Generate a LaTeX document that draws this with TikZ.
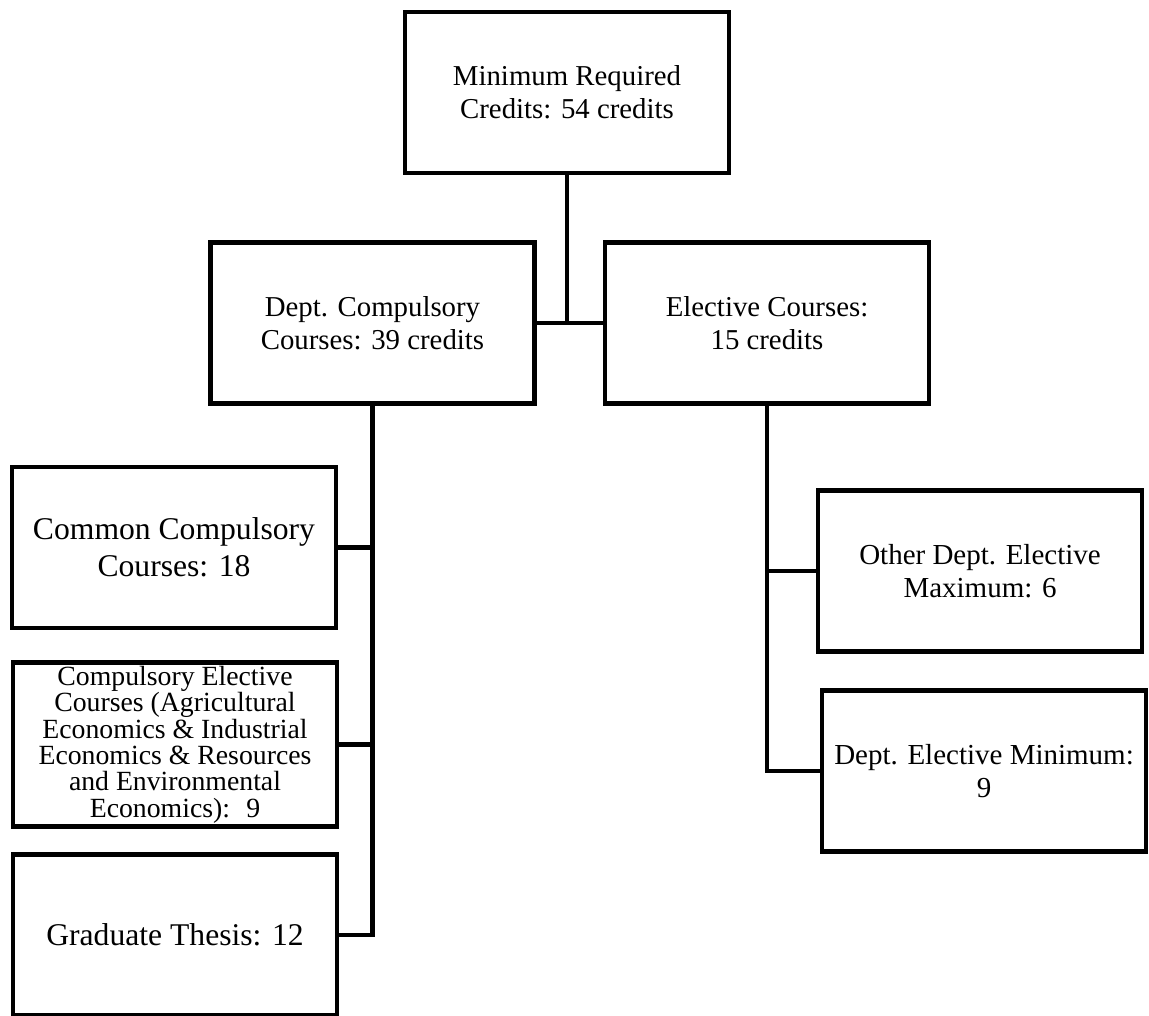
\documentclass[tikz,border=0pt]{standalone}
\usepackage{fontspec}
\setmainfont{Liberation Serif}
\usepackage{tikz}
\newcommand{\boxfont}[2]{\fontsize{#1}{#2}\selectfont}
\tikzset{
  creditbox/.style={draw, line width=2.5pt, minimum width=6.48cm, minimum height=3.22cm,
    inner sep=2pt, align=center, font=\boxfont{16.4}{18.8}},
  link/.style={line width=2.5pt}
}
\begin{document}
\begin{tikzpicture}[x=0.02cm,y=-0.02cm]
\useasboundingbox (0,0) rectangle (1149,1015);
% upper level
\node[creditbox] (minreq) at (567,92.5) {Minimum Required\\Credits: 54 credits};
\node[creditbox] (dept) at (372.5,323) {Dept. Compulsory\\Courses: 39 credits};
\node[creditbox] (elect) at (767,323) {Elective Courses:\\15 credits};
% compulsory branch
\node[creditbox, font=\boxfont{18}{21}] (common) at (174,547.5) {Common Compulsory\\Courses: 18};
\node[creditbox, font=\boxfont{15.8}{15}] (compel) at (175,744.5) {Compulsory Elective\\Courses (Agricultural\\Economics \& Industrial\\Economics \& Resources\\and Environmental\\Economics):~ 9};
\node[creditbox, font=\boxfont{18}{21}] (thesis) at (175,935) {Graduate Thesis: 12};
% elective branch
\node[creditbox, font=\boxfont{16.5}{18.7}] (other) at (980,571) {Other Dept. Elective\\Maximum: 6};
\node[creditbox, font=\boxfont{16.5}{18.7}] (depmin) at (984,771) {Dept. Elective Minimum:\\9};
% connectors
\draw[link] (dept.east) -- (elect.west);
\draw[link] (minreq.south) -- (minreq.south |- dept.east);
\draw[link] (dept.south) |- (thesis.east);
\draw[link] (common.east) -- (common.east -| dept.south);
\draw[link] (compel.east) -- (compel.east -| dept.south);
\draw[link] (elect.south) |- (depmin.west);
\draw[link] (other.west) -- (other.west -| elect.south);
\end{tikzpicture}
\end{document}
